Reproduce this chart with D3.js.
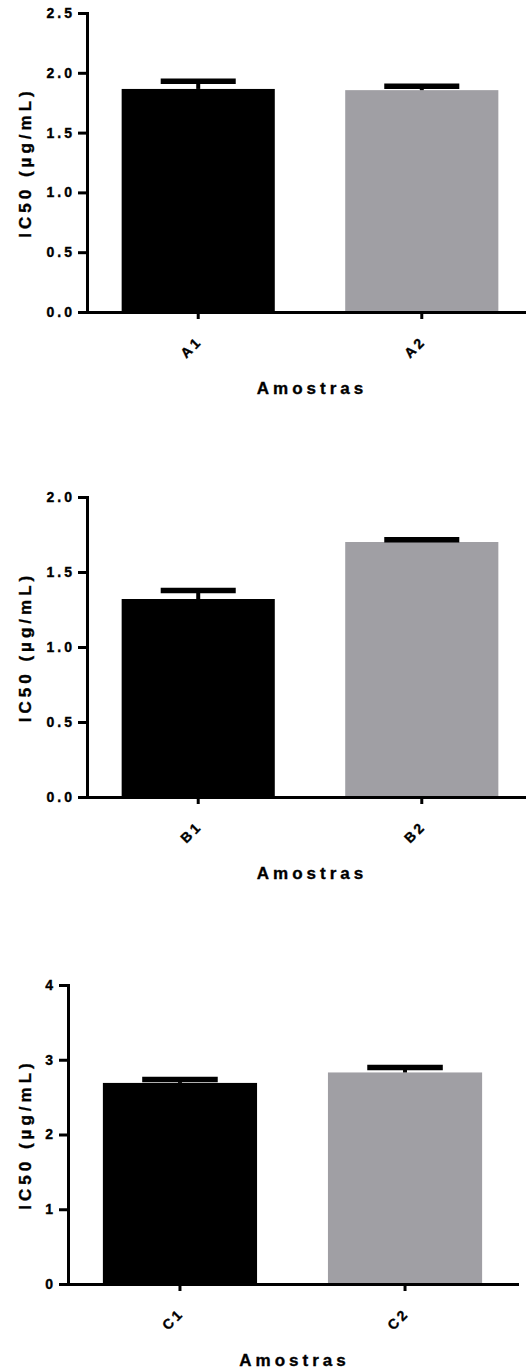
<!DOCTYPE html>
<html>
<head>
<meta charset="utf-8">
<script src="https://cdn.jsdelivr.net/npm/d3@7"></script>
<style>
    body { margin: 0; background: #fff; }
    svg { display: block; }
    text { font-family: "Liberation Sans", Arial, sans-serif; font-weight: bold; fill: #000; stroke: #000; stroke-width: 0.35px; }
</style>
</head>
<body>
<div id="chart"></div>
<script>
// sample names per panel
var samplesA = ["A1", "A2"],
    samplesB = ["B1", "B2"],
    samplesC = ["C1", "C2"];

// mean IC50 values (µg/mL)
var meansA = [1.865, 1.855],
    meansB = [1.32, 1.70],
    meansC = [2.69, 2.83];

// upper error (SD)
var errorsA = [0.065, 0.033],
    errorsB = [0.057, 0.015],
    errorsC = [0.045, 0.065];

// y tick values
var yTicksA = [0, 0.5, 1.0, 1.5, 2.0, 2.5],
    yTicksB = [0, 0.5, 1.0, 1.5, 2.0],
    yTicksC = [0, 1, 2, 3, 4];

var colors = ["#000000", "#a09fa4"];
var yTitle = "IC50 (µg/mL)",
    xTitle = "Amostras";

var svg = d3.select("#chart")
    .append("svg")
    .attr("width", 526)
    .attr("height", 1371);

// one panel = one small bar chart
function drawPanel(samples, means, errors, yTicks, fmt, box) {
    var g = svg.append("g");

    var x = d3.scaleBand()
        .domain(samples)
        .range([box.left, box.right])
        .paddingInner(0.315)
        .paddingOuter(0.155);

    var y = d3.scaleLinear()
        .domain([0, yTicks[yTicks.length - 1]])
        .range([box.bottom, box.top]);

    var rows = samples.map(function (s, i) {
        return {name: s, mean: means[i], err: errors[i], color: colors[i]};
    });

    // bars
    g.selectAll("rect.bar")
        .data(rows)
        .enter().append("rect")
        .attr("class", "bar")
        .attr("x", function (d) { return x(d.name); })
        .attr("y", function (d) { return y(d.mean); })
        .attr("width", x.bandwidth())
        .attr("height", function (d) { return y(0) - y(d.mean); })
        .attr("fill", function (d) { return d.color; });

    // error bars (upper only)
    var eb = g.selectAll("g.err")
        .data(rows)
        .enter().append("g")
        .attr("class", "err");
    eb.append("line")
        .attr("x1", function (d) { return x(d.name) + x.bandwidth() / 2; })
        .attr("x2", function (d) { return x(d.name) + x.bandwidth() / 2; })
        .attr("y1", function (d) { return y(d.mean); })
        .attr("y2", function (d) { return y(d.mean + d.err); })
        .attr("stroke", "#000")
        .attr("stroke-width", 4);
    eb.append("line")
        .attr("x1", function (d) { return x(d.name) + x.bandwidth() * 0.255; })
        .attr("x2", function (d) { return x(d.name) + x.bandwidth() * 0.745; })
        .attr("y1", function (d) { return y(d.mean + d.err); })
        .attr("y2", function (d) { return y(d.mean + d.err); })
        .attr("stroke", "#000")
        .attr("stroke-width", 5.5);

    // y axis
    var yAxis = g.append("g")
        .attr("transform", "translate(" + box.left + ",0)")
        .call(d3.axisLeft(y).tickValues(yTicks).tickFormat(d3.format(fmt))
            .tickSize(9).tickSizeOuter(0).tickPadding(3));
    // x axis
    var xAxis = g.append("g")
        .attr("transform", "translate(0," + box.bottom + ")")
        .call(d3.axisBottom(x).tickSize(7).tickSizeOuter(0));

    [yAxis, xAxis].forEach(function (ax) {
        ax.select(".domain").attr("stroke-width", 3).attr("stroke-linecap", "square");
        ax.selectAll(".tick line").attr("stroke-width", 3);
        ax.selectAll("text")
            .style("font-size", "14px")
            .style("letter-spacing", "3px")
            .attr("fill", "#000");
    });

    xAxis.selectAll(".tick text")
        .attr("x", 0).attr("y", 0).attr("dy", 0)
        .attr("text-anchor", "end")
        .attr("transform", "translate(5,30) rotate(-45)");

    // axis titles
    g.append("text")
        .attr("transform", "translate(31," + (box.top + box.bottom) / 2 + ") rotate(-90)")
        .attr("text-anchor", "middle")
        .style("font-size", "17px")
        .style("letter-spacing", "4px")
        .text(yTitle);

    g.append("text")
        .attr("x", (box.left + box.right) / 2 + 2)
        .attr("y", box.bottom + 82)
        .attr("text-anchor", "middle")
        .style("font-size", "17px")
        .style("letter-spacing", "4px")
        .text(xTitle);
}

drawPanel(samplesA, meansA, errorsA, yTicksA, ".1f", {left: 87, right: 533, top: 13, bottom: 312});
drawPanel(samplesB, meansB, errorsB, yTicksB, ".1f", {left: 87, right: 533, top: 497, bottom: 797});
drawPanel(samplesC, meansC, errorsC, yTicksC, "d", {left: 68, right: 517, top: 985, bottom: 1284});
</script>
</body>
</html>
